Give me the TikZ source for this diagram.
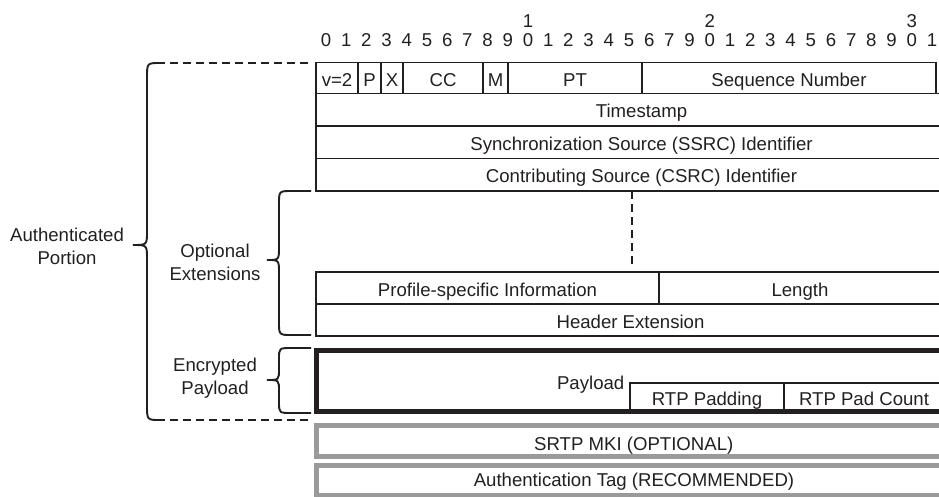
\documentclass[tikz,border=0pt]{standalone}
\usepackage{fontspec}
\setmainfont{Liberation Sans}
\usetikzlibrary{positioning}
\definecolor{ink}{HTML}{231F20}
\definecolor{boxgray}{HTML}{9A9A9A}

\begin{document}
\begin{tikzpicture}[x=1pt,y=-1pt,
    font=\fontsize{18.6}{22.8}\selectfont, text=ink,
    field/.style={draw=ink, line width=1.9pt, inner sep=0pt, outer sep=0pt,
      text height=16.4pt, text depth=0pt, minimum height=32.5pt},
    wide/.style={minimum width=651pt},
    heavy/.style={draw=ink, line width=4.4pt, inner sep=0pt, outer sep=0pt},
    grayfield/.style={draw=boxgray, line width=4.4pt, inner sep=0pt, outer sep=0pt,
      text height=13.4pt, text depth=0pt},
    bit/.style={inner sep=0pt, text height=13.4pt, text depth=0pt},
    side/.style={align=center, inner sep=0pt},
    bracket/.style={draw=ink, line width=1.9pt},
    gapline/.style={bracket, dash pattern=on 8pt off 5pt}]
    \useasboundingbox (0,0) rectangle (939,497);
    \clip (0,0) rectangle (939,497);

    % bit numbers
    \foreach \d [count=\i from 0] in {0,1,2,3,4,5,6,7,8,9,0,1,2,3,4,5,6,7,9,0,1,2,3,4,5,6,7,8,9,0,1}
      \node[bit] (bit\i) at (326+20.2*\i,40) {\d};
    \node[bit, yshift=19.5pt] (tens1) at (bit10) {1};
    \node[bit, yshift=19.5pt] (tens2) at (bit19) {2};
    \node[bit, yshift=19.5pt] (tens3) at (bit29) {3};

    % fixed header
    \node[field, minimum width=42pt, minimum height=31pt] (ver) at (337,78) {v=2};
    \node[field, minimum width=23pt, minimum height=31pt, right=0pt of ver] (pad) {P};
    \node[field, minimum width=22pt, minimum height=31pt, right=0pt of pad] (ext) {X};
    \node[field, minimum width=80pt, minimum height=31pt, right=0pt of ext] (cc) {CC};
    \node[field, minimum width=25pt, minimum height=31pt, right=0pt of cc] (mark) {M};
    \node[field, minimum width=134pt, minimum height=31pt, right=0pt of mark] (pt) {PT};
    \node[field, minimum width=294pt, minimum height=31pt, right=0pt of pt] (seq) {Sequence Number};
    \node[field, wide, anchor=north west] (ts) at (ver.south west) {Timestamp};
    \node[field, wide, below=0pt of ts] (ssrc) {Synchronization Source (SSRC) Identifier};
    \node[field, wide, below=0pt of ssrc] (csrc) {Contributing Source (CSRC) Identifier};

    % extension
    \coordinate (gapTop) at (631.7,191);
    \coordinate (gapBot) at (631.7,268);
    \draw[gapline] (gapTop) -- (gapBot);
    \node[field, minimum width=343pt, minimum height=32pt, anchor=north west] (prof) at (316,272) {Profile-specific Information};
    \node[field, minimum width=282pt, minimum height=32pt, right=0pt of prof] (len) {Length};
    \node[field, minimum width=629pt, minimum height=32pt, anchor=north west] (hdr) at (prof.south west) {Header Extension};

    % payload
    \node[field, minimum width=154pt, minimum height=28.8pt, text height=17.4pt, anchor=south west] (padding) at (630,411.5) {RTP Padding};
    \node[field, minimum width=160pt, minimum height=28.8pt, text height=17.4pt, right=0pt of padding] (padcount) {RTP Pad Count};
    \node[heavy, minimum width=624.5pt, minimum height=61pt, anchor=north west] (payload) at (316.5,350.5) {};
    \node[anchor=base east, inner sep=0pt] (paytxt) at (624.5,389.5) {Payload};

    % trailer
    \node[grayfield, minimum width=634.5pt, minimum height=31pt, text height=19.4pt, anchor=north west] (mki) at (316.5,425.5) {SRTP MKI (OPTIONAL)};
    \node[grayfield, minimum width=635pt, minimum height=29.5pt, anchor=north west] (authtag) at (316.5,465.5) {Authentication Tag (RECOMMENDED)};

    % braces
    \coordinate (authTop) at (308,63);
    \coordinate (authBot) at (308,420);
    \draw[gapline] (authTop) -- (160,63);
    \draw[gapline] (authBot) -- (160,420);
    \draw[bracket] (160,63) .. controls (147,63) .. (147,78) -- (147,231)
      .. controls (147,245) .. (133,245) .. controls (147,245) .. (147,259)
      -- (147,405) .. controls (147,420) .. (160,420);
    \draw[bracket] (311,191) -- (292,191) .. controls (279,191) .. (279,204) -- (279,247)
      .. controls (279,260) .. (267,260) .. controls (279,260) .. (279,273)
      -- (279,322) .. controls (279,335) .. (292,335) -- (311,335);
    \draw[bracket] (311,348) -- (292,348) .. controls (279,348) .. (279,359) -- (279,369)
      .. controls (279,380) .. (267,380) .. controls (279,380) .. (279,391)
      -- (279,402) .. controls (279,413) .. (292,413) -- (311,413);

    \node[side] (authlbl) at (67,246) {Authenticated\\Portion};
    \node[side] (optlbl) at (215,262) {Optional\\Extensions};
    \node[side] (enclbl) at (215,378) {Encrypted\\Payload};
\end{tikzpicture}
\end{document}
